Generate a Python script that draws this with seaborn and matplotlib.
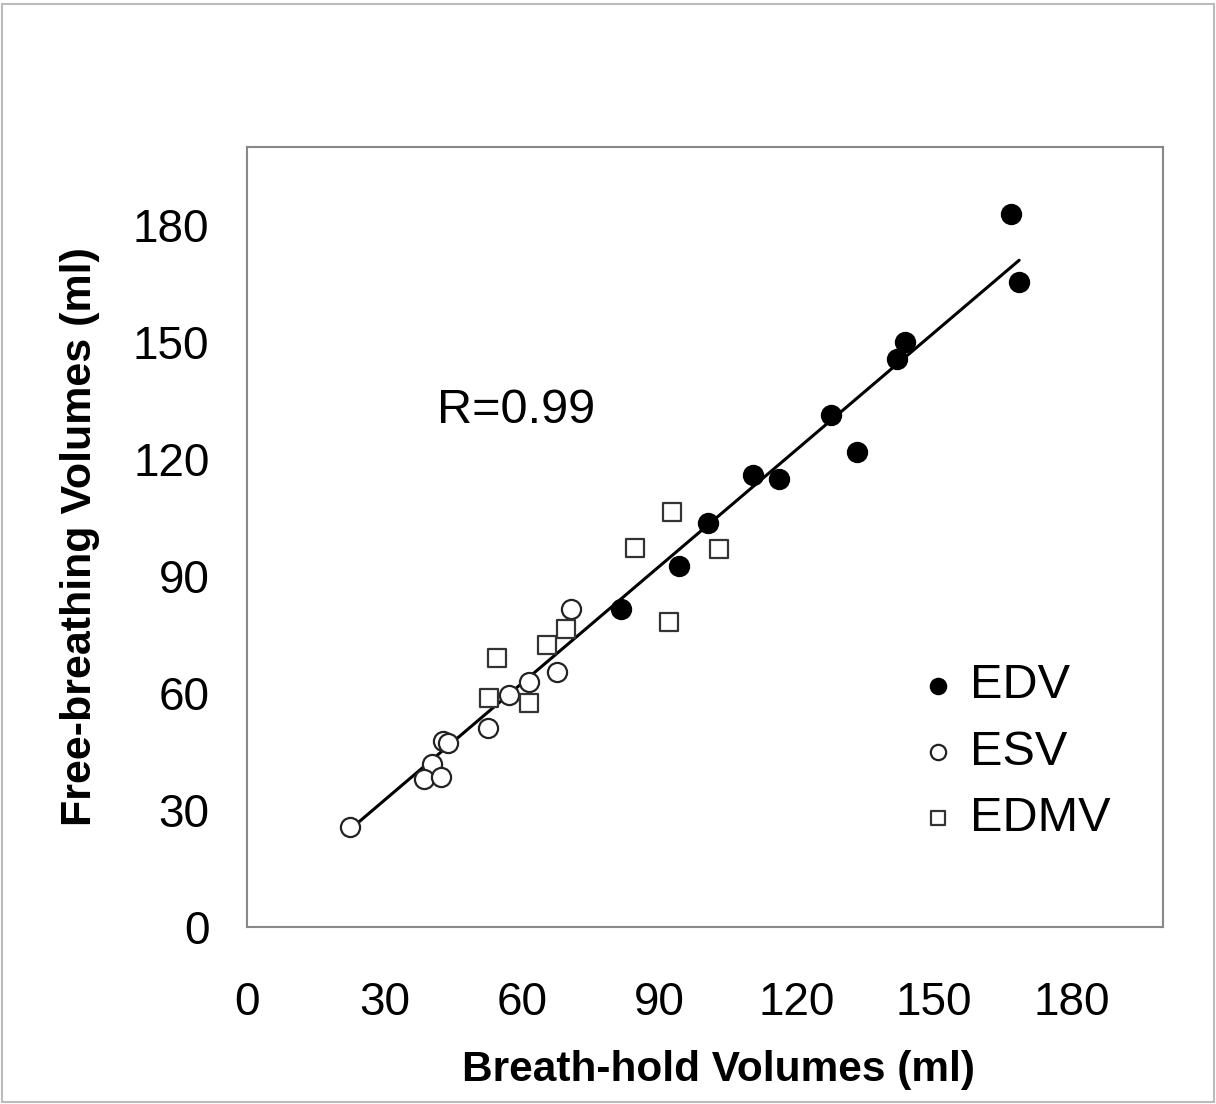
import numpy as np
import pandas as pd
import matplotlib
matplotlib.use("Agg")
import matplotlib.pyplot as plt
import seaborn as sns

# Data
edv_bh = [166.9, 168.6, 143.6, 142.0, 127.5, 133.3, 110.5, 116.1, 100.7, 94.3, 81.7]
edv_fb = [182.8, 165.3, 149.9, 145.6, 131.4, 121.7, 116.0, 115.0, 103.7, 92.7, 81.6]

esv_bh = [70.8, 67.8, 61.5, 57.3, 52.7, 42.8, 43.9, 40.3, 38.6, 42.4, 22.4]
esv_fb = [81.6, 65.5, 62.9, 59.6, 51.1, 47.8, 47.2, 41.8, 38.0, 38.5, 25.7]

edmv_bh = [92.8, 84.7, 103.1, 92.2, 69.7, 65.4, 54.6, 52.9, 61.5]
edmv_fb = [106.5, 97.3, 97.0, 78.3, 76.5, 72.4, 69.1, 58.8, 57.5]

ticks = [0, 30, 60, 90, 120, 150, 180]
r_text = "R=0.99"

df = pd.DataFrame({
    "bh": edv_bh + esv_bh + edmv_bh,
    "fb": edv_fb + esv_fb + edmv_fb,
    "group": ["EDV"] * len(edv_bh) + ["ESV"] * len(esv_bh) + ["EDMV"] * len(edmv_bh),
})

sns.set_style("white")
plt.rcParams['font.family'] = ['Liberation Sans', 'DejaVu Sans']
plt.rcParams['text.color'] = 'black'
plt.rcParams['axes.labelcolor'] = 'black'
plt.rcParams['xtick.color'] = 'black'
plt.rcParams['ytick.color'] = 'black'

fig = plt.figure(figsize=(12.16, 11.04), dpi=100)
ax = fig.add_axes([0.2031, 0.1603, 0.7533, 0.7065])

sns.regplot(data=df, x="bh", y="fb", scatter=False, ci=None, ax=ax,
            line_kws=dict(color="black", lw=2.2), truncate=True)

styles = {
    "EDV": dict(marker="o", facecolor="black", edgecolor="black", s=190),
    "ESV": dict(marker="o", facecolor="white", edgecolor="#222222", s=190),
    "EDMV": dict(marker="s", facecolor="white", edgecolor="#333333", s=170),
}
for g in ["EDV", "ESV", "EDMV"]:
    st = styles[g]
    sns.scatterplot(data=df[df.group == g], x="bh", y="fb", ax=ax,
                    marker=st["marker"], color=st["facecolor"],
                    edgecolor=st["edgecolor"], linewidth=1.6, s=st["s"],
                    label=g, zorder=3)

ax.set_xlim(0, 200)
ax.set_ylim(0, 200)
ax.set_xticks(ticks)
ax.set_yticks(ticks)
ax.set_xticklabels([str(t) for t in ticks], fontsize=33)
ax.set_yticklabels([str(t) for t in ticks], fontsize=33)
ax.tick_params(axis="both", direction="out", length=15, width=1.2, pad=24)
ax.tick_params(axis="y", pad=12)
for t in ax.xaxis.get_ticklines() + ax.yaxis.get_ticklines():
    t.set_color("#888888")
for sp in ax.spines.values():
    sp.set_color("#888888")
    sp.set_linewidth(1.5)

ax.set_xlabel("Breath-hold Volumes (ml)", fontsize=30.5, fontweight="bold")
ax.set_ylabel("Free-breathing Volumes (ml)", fontsize=31, fontweight="bold")
ax.xaxis.set_label_coords(0.515, -0.158)
ax.yaxis.set_label_coords(-0.160, 0.5)

ax.text(41.5, 132.5, r_text, fontsize=35, va="center", ha="left")

leg = ax.legend(loc="center left", bbox_to_anchor=(0.68, 0.224), frameon=False,
                fontsize=35, markerscale=0.8, handletextpad=0.15, labelspacing=0.44,
                handlelength=1.0)

fig.patches.append(plt.Rectangle((0.002, 0.002), 0.996, 0.994, transform=fig.transFigure,
                                 fill=False, edgecolor="#bbbbbb", lw=1.5))

fig.savefig("out.png", dpi=100)
